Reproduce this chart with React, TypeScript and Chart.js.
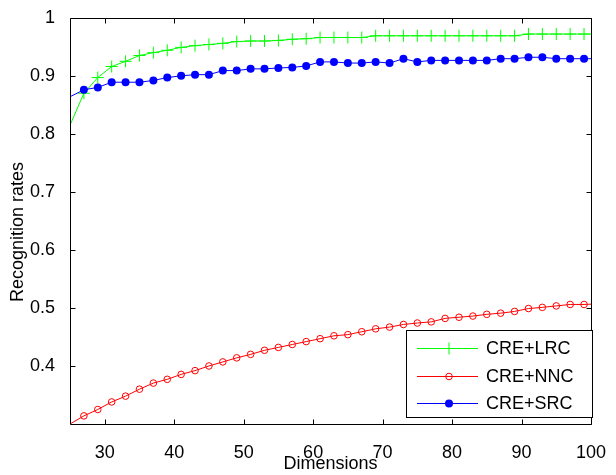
import { useEffect, useRef } from 'react';
import { Chart, registerables } from 'chart.js';

Chart.register(...registerables);

const dims = [25, 27, 29, 31, 33, 35, 37, 39, 41, 43, 45, 47, 49, 51, 53, 55, 57, 59, 61, 63, 65, 67, 69, 71, 73, 75, 77, 79, 81, 83, 85, 87, 89, 91, 93, 95, 97, 99, 101];
const lrc = [0.815, 0.870, 0.897, 0.916, 0.925, 0.935, 0.940, 0.944, 0.949, 0.952, 0.954, 0.956, 0.959, 0.960, 0.960, 0.961, 0.963, 0.964, 0.966, 0.966, 0.966, 0.966, 0.969, 0.969, 0.969, 0.969, 0.969, 0.969, 0.969, 0.969, 0.969, 0.969, 0.969, 0.972, 0.972, 0.972, 0.972, 0.972, 0.972];
const nnc = [0.300, 0.314, 0.325, 0.338, 0.348, 0.360, 0.3705, 0.377, 0.3855, 0.392, 0.400, 0.407, 0.414, 0.420, 0.427, 0.432, 0.437, 0.442, 0.447, 0.452, 0.454, 0.459, 0.464, 0.467, 0.4715, 0.474, 0.476, 0.482, 0.484, 0.486, 0.489, 0.491, 0.494, 0.499, 0.501, 0.5035, 0.506, 0.506, 0.507];
const src = [0.864, 0.876, 0.880, 0.889, 0.889, 0.889, 0.892, 0.897, 0.900, 0.902, 0.902, 0.909, 0.909, 0.912, 0.912, 0.9135, 0.9145, 0.917, 0.924, 0.924, 0.922, 0.922, 0.924, 0.922, 0.9295, 0.924, 0.9266, 0.9266, 0.9266, 0.9266, 0.9266, 0.9295, 0.9295, 0.932, 0.932, 0.9295, 0.9295, 0.9295, 0.9295];

const seriesNames = ['CRE+LRC', 'CRE+NNC', 'CRE+SRC'];
const seriesColors = ['#00ff00', '#ff0000', '#0000ff'];
const xTicks = [30, 40, 50, 60, 70, 80, 90, 100];
const yTicks = [0.4, 0.5, 0.6, 0.7, 0.8, 0.9, 1];
const xTitle = 'Dimensions';
const yTitle = 'Recognition rates';

const FONT = '"Liberation Sans", Arial, Helvetica, sans-serif';

const markerRadius = (r: number) => (ctx: any) => {
  const d = dims[ctx.dataIndex];
  return d <= 25 || d > 100 ? 0 : r;
};

function drawMarker(ctx: CanvasRenderingContext2D, i: number, x: number, y: number) {
  ctx.save();
  ctx.strokeStyle = seriesColors[i];
  ctx.fillStyle = seriesColors[i];
  ctx.lineWidth = 1;
  ctx.beginPath();
  if (i === 0) {
    ctx.moveTo(x - 6, y); ctx.lineTo(x + 6, y);
    ctx.moveTo(x, y - 6); ctx.lineTo(x, y + 6);
    ctx.stroke();
  } else if (i === 1) {
    ctx.arc(x, y, 3.3, 0, Math.PI * 2);
    ctx.stroke();
  } else {
    ctx.arc(x, y, 4, 0, Math.PI * 2);
    ctx.fill();
  }
  ctx.restore();
}

const framePlugin = {
  id: 'frame',
  afterDatasetsDraw(chart: any) {
    const { ctx, chartArea } = chart;
    const { left, right, top, bottom } = chartArea;
    const xs = chart.scales.x;
    const ys = chart.scales.y;
    ctx.save();
    ctx.strokeStyle = '#000';
    ctx.lineWidth = 1;
    const L = Math.round(left) + 0.5, R = Math.round(right) + 0.5;
    const T = Math.round(top) + 0.5, B = Math.round(bottom) + 0.5;
    ctx.beginPath();
    ctx.rect(L, T, R - L, B - T);
    ctx.stroke();
    const tl = 5;
    ctx.beginPath();
    xTicks.forEach((v) => {
      const px = Math.round(xs.getPixelForValue(v)) + 0.5;
      ctx.moveTo(px, B); ctx.lineTo(px, B - tl);
      ctx.moveTo(px, T); ctx.lineTo(px, T + tl);
    });
    yTicks.forEach((v) => {
      const py = Math.round(ys.getPixelForValue(v)) + 0.5;
      ctx.moveTo(L, py); ctx.lineTo(L + tl, py);
      ctx.moveTo(R, py); ctx.lineTo(R - tl, py);
    });
    ctx.stroke();

    // y axis title (rotated, real text)
    ctx.save();
    ctx.translate(18, 232);
    ctx.rotate(-Math.PI / 2);
    ctx.font = `18px ${FONT}`;
    ctx.fillStyle = '#000';
    ctx.textAlign = 'center';
    ctx.textBaseline = 'middle';
    ctx.fillText(yTitle, 0, 0);
    ctx.restore();

    // legend
    const bx = 406.5, by = 330.5, bw = 186, bh = 87;
    ctx.fillStyle = '#fff';
    ctx.fillRect(bx, by, bw, bh);
    ctx.strokeStyle = '#000';
    ctx.strokeRect(bx, by, bw, bh);
    const rows = [348, 376, 403];
    ctx.font = `18px ${FONT}`;
    ctx.textBaseline = 'middle';
    ctx.textAlign = 'left';
    seriesNames.forEach((name, i) => {
      const y = rows[i];
      ctx.strokeStyle = seriesColors[i];
      ctx.lineWidth = 1;
      ctx.beginPath();
      ctx.moveTo(417, y + 0.5);
      ctx.lineTo(478, y + 0.5);
      ctx.stroke();
      drawMarker(ctx, i, 449, y + 0.5);
      ctx.fillStyle = '#000';
      ctx.fillText(name, 486, y + 1);
    });
    ctx.restore();
  },
};

export default function App() {
  const ref = useRef<HTMLCanvasElement>(null);
  useEffect(() => {
    if (!ref.current) return;
    const mk = (vals: number[]) => dims.map((d, i) => ({ x: d, y: vals[i] }));
    const chart = new Chart(ref.current, {
      type: 'line',
      data: {
        datasets: [
          {
            label: seriesNames[2],
            data: mk(src),
            borderColor: seriesColors[2],
            backgroundColor: seriesColors[2],
            borderWidth: 1,
            pointStyle: 'circle',
            pointRadius: markerRadius(4),
            pointBorderWidth: 0,
            pointBackgroundColor: seriesColors[2],
            order: 0,
          },
          {
            label: seriesNames[1],
            data: mk(nnc),
            borderColor: seriesColors[1],
            backgroundColor: 'rgba(0,0,0,0)',
            borderWidth: 1,
            pointStyle: 'circle',
            pointRadius: markerRadius(3.3),
            pointBorderWidth: 1,
            pointBackgroundColor: 'rgba(0,0,0,0)',
            order: 1,
          },
          {
            label: seriesNames[0],
            data: mk(lrc),
            borderColor: seriesColors[0],
            backgroundColor: seriesColors[0],
            borderWidth: 1,
            pointStyle: 'cross',
            pointRadius: markerRadius(6),
            pointBorderWidth: 1,
            order: 2,
          },
        ],
      },
      options: {
        responsive: false,
        animation: false,
        events: [],
        layout: { padding: { left: 0, right: 18, top: 16, bottom: 0 } },
        plugins: { legend: { display: false }, tooltip: { enabled: false } },
        elements: { line: { tension: 0 } },
        scales: {
          x: {
            type: 'linear',
            min: 25,
            max: 100,
            grid: { display: false },
            border: { display: false },
            afterBuildTicks: (s: any) => { s.ticks = xTicks.map((v) => ({ value: v })); },
            afterFit: (s: any) => { s.height = 51; },
            ticks: {
              color: '#000',
              font: { family: FONT, size: 18 },
              padding: 10,
              maxRotation: 0,
              autoSkip: false,
              callback: (v: any) => String(v),
            },
            title: {
              display: true,
              text: xTitle,
              color: '#000',
              font: { family: FONT, size: 18, lineHeight: 1.2 },
              padding: { top: 0, bottom: 0 },
            },
          },
          y: {
            type: 'linear',
            min: 0.3,
            max: 1,
            grid: { display: false },
            border: { display: false },
            afterBuildTicks: (s: any) => { s.ticks = yTicks.map((v) => ({ value: v })); },
            afterFit: (s: any) => { s.width = 70; },
            ticks: {
              color: '#000',
              font: { family: FONT, size: 18 },
              padding: 7,
              autoSkip: false,
              callback: (v: any) => (v === 1 ? '1' : Number(v).toFixed(1)),
            },
            title: { display: false, text: yTitle },
          },
        },
      },
      plugins: [framePlugin],
    });
    return () => chart.destroy();
  }, []);
  return (
    <div style={{ position: 'fixed', left: 0, top: 0, width: 616, height: 475, background: '#fff' }}>
      <canvas ref={ref} width={616} height={475} style={{ width: 616, height: 475, display: 'block' }} />
    </div>
  );
}
